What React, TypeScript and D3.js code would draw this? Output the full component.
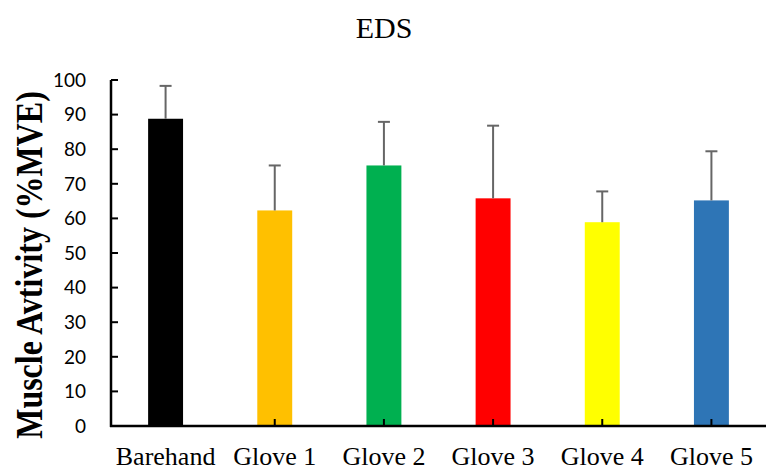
import React from "react";
import * as d3 from "d3";

const categories = ["Barehand", "Glove 1", "Glove 2", "Glove 3", "Glove 4", "Glove 5"];
const means = [88.8, 62.3, 75.3, 65.8, 58.9, 65.2];
const errors = [9.5, 13.0, 12.6, 21.0, 8.9, 14.2];
const colors = ["#000000", "#FFC000", "#00B050", "#FF0000", "#FFFF00", "#2E75B6"];
const yTicks = [0, 10, 20, 30, 40, 50, 60, 70, 80, 90, 100];

export default function App() {
  const W = 767, H = 470;
  const x0 = 111, x1 = 766;
  const yScale = d3.scaleLinear().domain([0, 100]).range([426, 80]);
  const xScale = d3.scaleBand<string>().domain(categories).range([x0, x1]).paddingInner(0.68).paddingOuter(0.34);
  const bw = xScale.bandwidth();
  return (
    <svg width={W} height={H} style={{ position: "absolute", left: 0, top: 0 }}>
      <rect width={W} height={H} fill="#fff" />
      <text x={384} y={38} textAnchor="middle" fontFamily="Liberation Serif" fontSize={30}>EDS</text>
      <text transform={`translate(42,265) rotate(-90) scale(1,1.2)`} textAnchor="middle" fontFamily="Liberation Serif" fontWeight="bold" fontSize={32}>Muscle Avtivity (%MVE)</text>
      {categories.map((c, i) => {
        const cx = xScale(c)! + bw / 2;
        return (
          <g key={c}>
            <rect x={xScale(c)} y={yScale(means[i])} width={bw} height={yScale(0) - yScale(means[i])} fill={colors[i]} />
            <line x1={cx} x2={cx} y1={yScale(means[i])} y2={yScale(means[i] + errors[i])} stroke="#666" strokeWidth={2} />
            <line x1={cx - 6} x2={cx + 6} y1={yScale(means[i] + errors[i])} y2={yScale(means[i] + errors[i])} stroke="#666" strokeWidth={2} />
            <text x={cx} y={465} textAnchor="middle" fontFamily="Liberation Serif" fontSize={26}>{c}</text>
          </g>
        );
      })}
      <line x1={x0} x2={x0} y1={yScale(100)} y2={yScale(0) + 1} stroke="#000" strokeWidth={2.5} />
      <line x1={x0 - 1} x2={x1} y1={yScale(0)} y2={yScale(0)} stroke="#000" strokeWidth={2.5} />
      {yTicks.map(t => (
        <g key={t}>
          <line x1={x0} x2={x0 + 7} y1={yScale(t)} y2={yScale(t)} stroke="#000" strokeWidth={2} />
          <text x={86} y={yScale(t)} dy="0.36em" textAnchor="end" fontFamily="Lato, 'Open Sans', sans-serif" fontSize={19}>{t}</text>
        </g>
      ))}
      {categories.map(c => {
        const cx = xScale(c)! + bw / 2;
        return <line key={"t" + c} x1={cx} x2={cx} y1={yScale(0)} y2={yScale(0) - 7} stroke="#000" strokeWidth={2} />;
      })}
    </svg>
  );
}
